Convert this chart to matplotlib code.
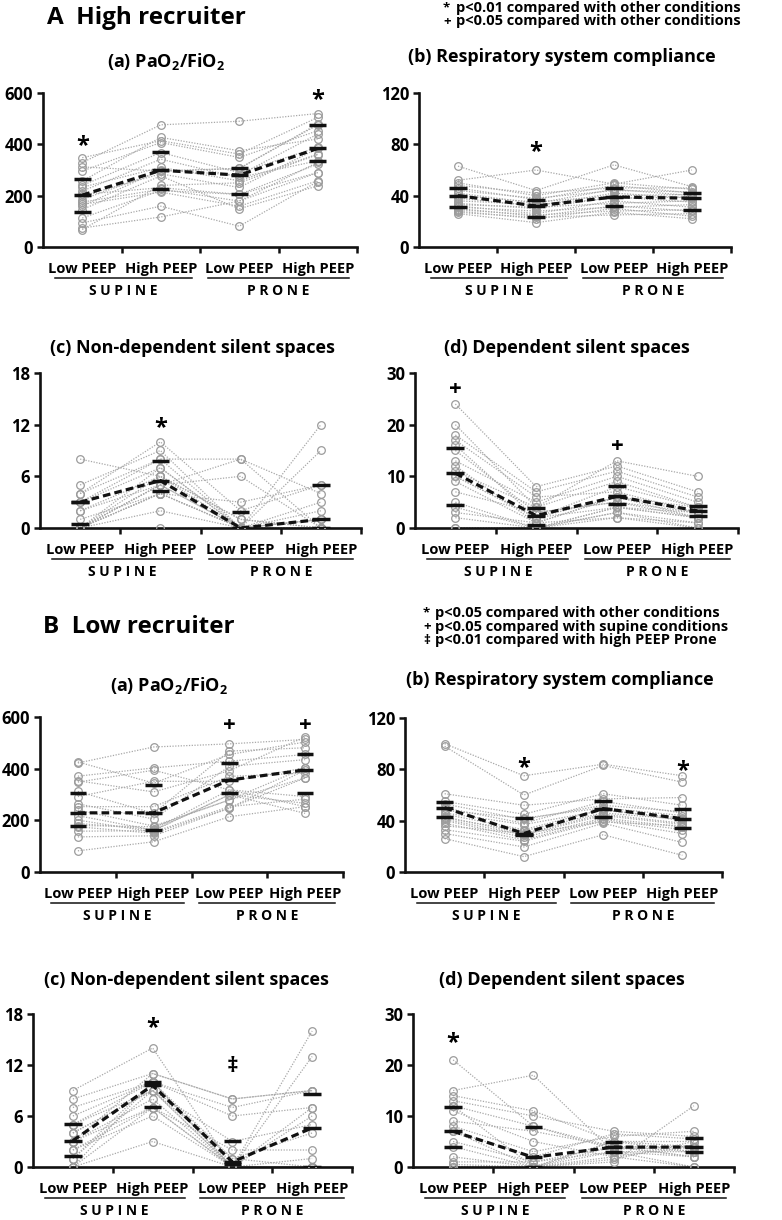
import matplotlib
matplotlib.use('Agg')
import matplotlib.pyplot as plt
from matplotlib import transforms

plt.rcParams['font.family'] = ['Open Sans', 'DejaVu Sans']
plt.rcParams['font.weight'] = 'bold'
plt.rcParams['mathtext.default'] = 'regular'

conditions = ['Low PEEP', 'High PEEP', 'Low PEEP', 'High PEEP']
positions = ['S U P I N E', 'P R O N E']

# each row = one patient: supine low PEEP, supine high PEEP, prone low PEEP, prone high PEEP
hi_pf = [[348, 414, 362, 505], [329, 476, 490, 520], [312, 296, 306, 479], [296, 407, 349, 453],
         [257, 427, 375, 421], [240, 368, 290, 388], [233, 310, 258, 362], [218, 342, 271, 336],
         [205, 231, 205, 323], [199, 285, 232, 384], [185, 296, 306, 476], [175, 225, 179, 290],
         [166, 214, 159, 258], [160, 300, 280, 440], [146, 277, 149, 238], [113, 220, 205, 290],
         [94, 159, 81, 255], [74, 117, 179, 330], [68, 240, 250, 360]]
hi_crs = [[63, 44, 64, 47], [52, 60, 49, 60], [50, 40, 50, 45], [48, 42, 46, 46], [46, 37, 48, 42],
          [44, 38, 44, 43], [42, 34, 45, 40], [40, 35, 40, 41], [38, 32, 42, 38], [36, 33, 38, 39],
          [34, 30, 39, 35], [33, 31, 34, 36], [32, 26, 36, 31], [31, 28, 31, 33], [30, 24, 32, 28],
          [29, 25, 28, 29], [28, 22, 30, 24], [27, 23, 25, 26], [26, 19, 27, 22]]
hi_nd = [[8, 6, 1, 0], [5, 9, 0, 1], [4, 10, 2, 5], [4, 8, 8, 4], [3, 7, 0, 0], [3, 8, 0, 2],
         [2, 5, 0, 1], [2, 6, 1, 0], [1, 4, 0, 0], [0, 5, 6, 0], [0, 7, 0, 3], [0, 4, 3, 5],
         [0, 2, 0, 0], [0, 5, 0, 12], [0, 4, 0, 0], [0, 0, 0, 0], [0, 6, 0, 9], [0, 5, 8, 0],
         [0, 4, 0, 1]]
hi_dep = [[24, 8, 12, 7], [20, 4, 13, 10], [18, 7, 11, 6], [17, 6, 7, 3], [16, 2, 8, 4],
          [15, 3, 5, 3], [13, 5, 10, 5], [12, 1, 6, 2], [11, 4, 9, 4], [10, 2, 4, 2],
          [9, 1, 6, 3], [7, 3, 5, 2], [5, 0, 3, 1], [4, 0, 4, 3], [3, 1, 2, 1], [2, 0, 3, 0],
          [0, 0, 2, 0], [0, 0, 4, 2], [10, 2, 6, 4]]

lo_pf = [[426, 344, 455, 503], [422, 484, 496, 513], [371, 403, 429, 455], [353, 310, 392, 523],
         [348, 394, 318, 292], [312, 227, 468, 481], [292, 351, 351, 403], [264, 205, 409, 435],
         [253, 253, 370, 383], [240, 178, 279, 364], [218, 162, 299, 266], [201, 155, 253, 282],
         [188, 165, 318, 253], [175, 150, 247, 395], [158, 160, 299, 227], [136, 140, 247, 364],
         [82, 117, 214, 253], [180, 175, 279, 403]]
lo_crs = [[100, 75, 84, 75], [98, 60, 83, 70], [61, 52, 57, 58], [55, 45, 61, 52], [53, 41, 52, 47],
          [50, 38, 55, 46], [48, 42, 50, 44], [46, 37, 48, 42], [45, 33, 49, 40], [43, 30, 45, 38],
          [42, 32, 46, 41], [41, 29, 44, 37], [40, 27, 42, 35], [38, 25, 41, 33], [36, 30, 39, 36],
          [33, 24, 40, 30], [30, 19.5, 38, 23], [26, 12, 29, 13]]
lo_nd = [[9, 14, 0, 16], [8, 11, 8, 9], [7, 10, 7, 9], [6, 10, 6, 7], [5, 10, 1, 4], [5, 9, 0, 0],
         [4, 9, 3, 5], [3, 8, 0, 6], [3, 7, 2, 2], [2, 7, 0, 0], [2, 6, 0, 1], [1, 10, 0, 0],
         [1, 9, 1, 0], [0, 3, 0, 0], [0, 7, 0, 0], [0, 10, 0, 13], [3, 11, 8, 9], [4, 9, 0, 7]]
lo_dep = [[21, 8, 4, 3], [15, 18, 3, 2], [14, 11, 5, 5], [13, 10, 7, 6], [12, 8, 3.5, 4],
          [11, 5, 2, 0], [9, 7, 4, 4], [8, 3, 6, 7], [7, 2, 6.5, 5.5], [5, 1, 3, 3], [4, 0, 5, 3],
          [2, 0, 1, 12], [1, 1, 4, 2], [0.5, 0, 2, 4], [0, 0, 3, 0], [0, 0, 1.5, 5], [12, 0, 4, 2],
          [7, 0, 5, 4]]

# (q1, median, q3) per condition
hi_pf_box = [[137, 202, 263], [227, 299, 370], [205, 280, 306], [336, 384, 476]]
hi_crs_box = [[31, 40, 46], [23, 32, 37], [32, 39, 46], [29, 38, 42]]
hi_nd_box = [[0.5, 3, 3], [4.3, 5.5, 7.8], [0, 0, 1.8], [0, 1, 5]]
hi_dep_box = [[4.5, 10.6, 15.4], [0.5, 2.4, 3.9], [4.6, 6.1, 8.2], [2.3, 3.3, 4.2]]
lo_pf_box = [[179, 229, 304], [162, 229, 335], [304, 356, 423], [304, 395, 457]]
lo_crs_box = [[43, 50, 54.5], [28.6, 30, 42], [43, 49.4, 55], [34.3, 41.6, 49.4]]
lo_nd_box = [[1.3, 3.1, 5.1], [7.1, 9.6, 10], [0.3, 0.6, 3.1], [0, 4.6, 8.6]]
lo_dep_box = [[3.9, 7.0, 11.7], [0, 1.9, 7.8], [2.9, 3.9, 5.0], [2.9, 3.9, 5.7]]

# significance symbols: (condition index, height, symbol)
hi_pf_sig = [(0, 430, '*'), (3, 606, '*')]
hi_crs_sig = [(1, 81, '*')]
hi_nd_sig = [(1, 12.7, '*')]
hi_dep_sig = [(0, 27.3, '+'), (2, 16.2, '+')]
lo_pf_sig = [(2, 578, '+'), (3, 578, '+')]
lo_crs_sig = [(1, 88, '*'), (3, 85.5, '*')]
lo_nd_sig = [(1, 17.4, '*'), (2, 12.0, '‡')]
lo_dep_sig = [(0, 26.1, '*')]

W, H = 782, 1220
fig = plt.figure(figsize=(W / 100, H / 100), dpi=100)


def add_panel(l, r, t, b):
    return fig.add_axes([l / W, 1 - b / H, (r - l) / W, (b - t) / H])


def below(ax, dy):
    return transforms.offset_copy(ax.get_xaxis_transform(), fig=fig, x=0, y=-dy, units='dots')


def draw_panel(ax, rows, box, ymax, step, sig):
    xs = [0.5, 1.5, 2.5, 3.5]
    for row in rows:
        ax.plot(xs, row, ls=(0, (1, 1.2)), color='#a8a8a8', lw=0.9, zorder=2)
        ax.plot(xs, row, ls='none', marker='o', ms=5.5, mfc='none', mec='#9c9c9c', mew=0.9, zorder=3)
    for x, b in zip(xs, box):
        for v in b:
            ax.plot([x - 0.11, x + 0.11], [v, v], color='#111111', lw=2.5,
                    solid_capstyle='butt', zorder=5)
    ax.plot(xs, [b[1] for b in box], color='#111111', lw=2.3, dashes=(2.4, 1.3), zorder=6)

    ax.set_xlim(0, 4)
    ax.set_ylim(0, ymax)
    ax.set_yticks(range(0, ymax + 1, step))
    ax.set_xticks([1, 2, 3, 4])
    ax.set_xticklabels([])
    for s in ['top', 'right']:
        ax.spines[s].set_visible(False)
    for s in ['left', 'bottom']:
        ax.spines[s].set_linewidth(1.9)
        ax.spines[s].set_color('#111111')
    ax.tick_params(axis='both', direction='out', length=4, width=1.8, color='#111111')
    ax.tick_params(axis='y', labelsize=12, pad=3)
    for lab in ax.get_yticklabels():
        lab.set_fontweight('bold')

    for x, c in zip(xs, conditions):
        ax.text(x, 0, c, transform=below(ax, 22), ha='center', va='center', fontsize=10.5)
    for (x0, x1), g in zip([(0.15, 1.9), (2.1, 3.9)], positions):
        ax.plot([x0, x1], [0, 0], transform=below(ax, 31), color='#111111', lw=1.1, clip_on=False)
        ax.text((x0 + x1) / 2, 0, g, transform=below(ax, 44), ha='center', va='center', fontsize=10)

    for i, y, s in sig:
        shift = {'*': 15, '+': 8, '‡': 7}[s]
        tr = transforms.offset_copy(ax.transData, fig=fig, x=0, y=-shift, units='dots')
        ax.text(xs[i], y, s, transform=tr, ha='center', va='baseline', fontsize=17 if s == '*' else 16,
                clip_on=False)


panels = [
    (add_panel(43, 357, 93, 247), hi_pf, hi_pf_box, 600, 200, hi_pf_sig),
    (add_panel(419, 731, 93, 247), hi_crs, hi_crs_box, 120, 40, hi_crs_sig),
    (add_panel(40, 361, 373, 528), hi_nd, hi_nd_box, 18, 6, hi_nd_sig),
    (add_panel(415, 738, 373, 528), hi_dep, hi_dep_box, 30, 10, hi_dep_sig),
    (add_panel(40, 343, 717, 872), lo_pf, lo_pf_box, 600, 200, lo_pf_sig),
    (add_panel(405, 722, 718, 872), lo_crs, lo_crs_box, 120, 40, lo_crs_sig),
    (add_panel(33, 352, 1014, 1167), lo_nd, lo_nd_box, 18, 6, lo_nd_sig),
    (add_panel(413, 734, 1014, 1167), lo_dep, lo_dep_box, 30, 10, lo_dep_sig),
]
for ax, rows, box, ymax, step, sig in panels:
    draw_panel(ax, rows, box, ymax, step, sig)


def ftext(x, y, s, **kw):
    fig.text(x / W, 1 - y / H, s, **kw)


titles = [
    (166, 61, '(a) PaO$_2$/FiO$_2$'),
    (562, 57, '(b) Respiratory system compliance'),
    (192, 348, '(c) Non-dependent silent spaces'),
    (567, 348, '(d) Dependent silent spaces'),
    (169, 686, '(a) PaO$_2$/FiO$_2$'),
    (560, 680, '(b) Respiratory system compliance'),
    (186, 980, '(c) Non-dependent silent spaces'),
    (562, 980, '(d) Dependent silent spaces'),
]
for x, y, s in titles:
    ftext(x, y, s, ha='center', va='center', fontsize=13)

ftext(47, 18, 'A  High recruiter', ha='left', va='center', fontsize=17.5)
ftext(43, 627, 'B  Low recruiter', ha='left', va='center', fontsize=17.5)

legend_a = [('*', 'p<0.01 compared with other conditions'),
            ('+', 'p<0.05 compared with other conditions')]
legend_b = [('*', 'p<0.05 compared with other conditions'),
            ('+', 'p<0.05 compared with supine conditions'),
            ('‡', 'p<0.01 compared with high PEEP Prone')]
for k, (sym, txt) in enumerate(legend_a):
    ftext(443, 8 + 13.5 * k, sym, ha='left', va='center', fontsize=9.5)
    ftext(456, 8 + 13.5 * k, txt, ha='left', va='center', fontsize=10.5)
for k, (sym, txt) in enumerate(legend_b):
    ftext(423, 613 + 13.5 * k, sym, ha='left', va='center', fontsize=9.5)
    ftext(435, 613 + 13.5 * k, txt, ha='left', va='center', fontsize=10.5)

fig.savefig('out.png', dpi=100)
